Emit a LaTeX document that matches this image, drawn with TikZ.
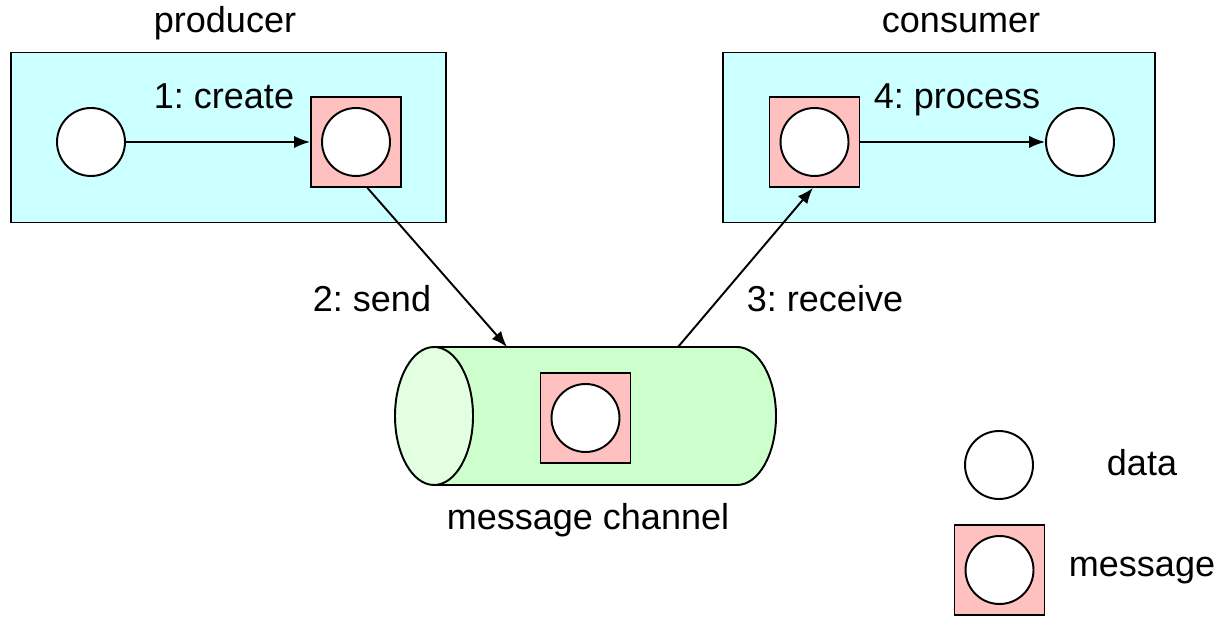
\documentclass[tikz,border=0pt]{standalone}
\usepackage{fontspec}
\setmainfont{Liberation Sans}
\usetikzlibrary{arrows.meta}
\definecolor{BoxCyan}{HTML}{CCFFFF}
\definecolor{MsgPink}{HTML}{FFC0C0}
\definecolor{PipeGreen}{HTML}{CCFFCC}
\definecolor{PipeEnd}{HTML}{E2FFE2}
\frenchspacing

\begin{document}
\begin{tikzpicture}[x=0.02cm, y=-0.02cm, line width=1.1pt,
    every node/.style={font=\fontsize{20.5}{24}\selectfont, black},
    lbl/.style={anchor=base, inner sep=0pt},
    appbox/.style={draw, fill=BoxCyan, minimum width=8.7cm, minimum height=3.4cm, inner sep=0pt},
    data/.style={circle, draw, fill=white, minimum size=1.36cm, inner sep=0pt},
    msg/.style={draw, fill=MsgPink, minimum size=1.8cm, inner sep=0pt},
    arr/.style={-{Latex[length=9pt, width=7pt]}}]
    \useasboundingbox (0,0) rectangle (1229,617);

    % producer side
    \node[appbox] (prod) at (228.5,137.5) {};
    \node[lbl] (prodlbl) at (225,33) {producer};
    \node[data] (dataA) at (91,142) {};
    \node[msg] (msgA) at (356,142) {};
    \node[data] (msgAd) at (356,142) {};
    \draw[arr] (dataA) -- (msgA);
    \node[lbl] (create) at (224,109) {1: create};

    % consumer side
    \node[appbox, minimum width=8.64cm] (cons) at (939,137.5) {};
    \node[lbl] (conslbl) at (961,33) {consumer};
    \node[msg] (msgB) at (814.5,142) {};
    \node[data] (msgBd) at (814.5,142) {};
    \node[data] (dataB) at (1080,142) {};
    \draw[arr] (msgB) -- (dataB);
    \node[lbl] (process) at (957,109) {4: process};

    % message channel
    \draw[fill=PipeGreen] (434,347) -- (737,347) arc[start angle=90, end angle=-90, x radius=39, y radius=-69]
        -- (434,485) -- cycle;
    \draw[fill=PipeEnd] (434,416) ellipse[x radius=39, y radius=69];
    \coordinate (chanIn) at (507,347);
    \coordinate (chanOut) at (678,347);
    \node[msg] (msgC) at (585.5,418) {};
    \node[data] (msgCd) at (585.5,418) {};
    \node[lbl] (chanlbl) at (588,529) {message channel};

    \draw[arr] (msgA.-76) -- (chanIn);
    \draw[arr] (chanOut) -- (msgB.-92);
    \node[lbl] (send) at (372,312) {2: send};
    \node[lbl] (receive) at (825,312) {3: receive};

    % legend
    \node[data] (keyData) at (999,465) {};
    \node[lbl] (keyDatalbl) at (1142,476) {data};
    \node[msg] (keyMsg) at (999.5,570) {};
    \node[data] (keyMsgd) at (999.5,570) {};
    \node[lbl] (keyMsglbl) at (1142,576) {message};
\end{tikzpicture}
\end{document}
